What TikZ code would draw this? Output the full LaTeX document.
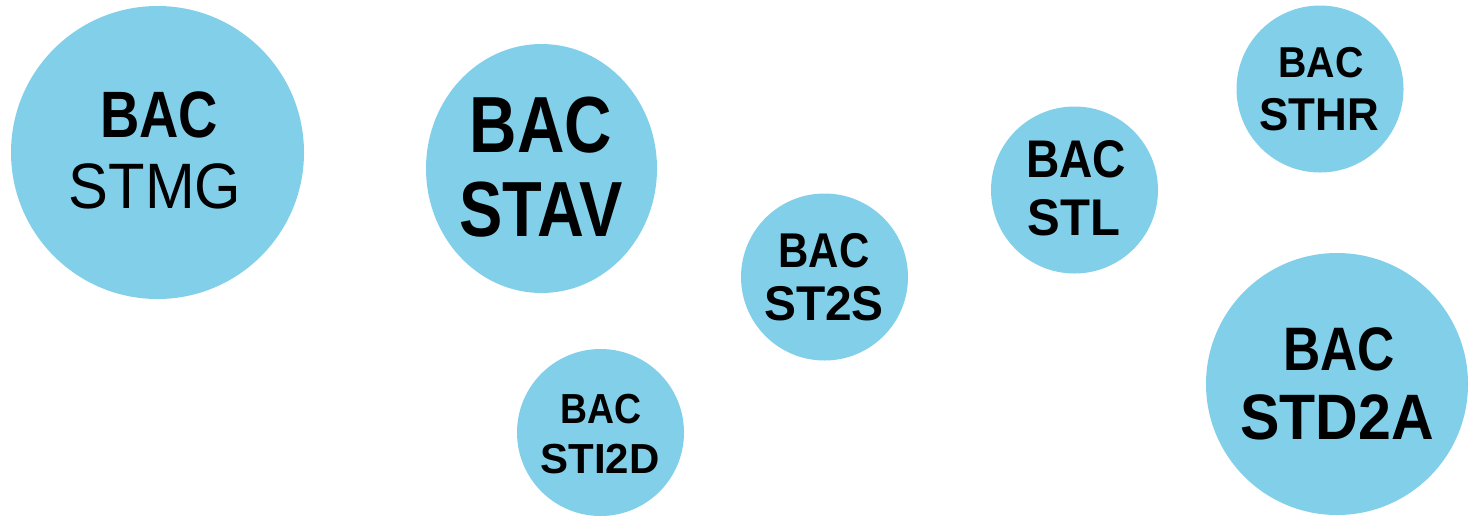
\documentclass[tikz,border=0pt]{standalone}
\usepackage{fontspec}
\usepackage{graphicx}
\usetikzlibrary{shapes.geometric}
\setmainfont{Liberation Sans}
\newcommand{\bt}[3]{\scalebox{#2}[1]{\fontsize{#1}{#1}\selectfont\bfseries #3}}
\newcommand{\rt}[3]{\scalebox{#2}[1]{\fontsize{#1}{#1}\selectfont #3}}
\definecolor{bubble}{RGB}{130,207,234}
\begin{document}
\begin{tikzpicture}[x=0.5pt,y=-0.5pt,
  bub/.style={circle,fill=bubble,draw=none,inner sep=0pt},
  bubell/.style={ellipse,fill=bubble,draw=none,inner sep=0pt},
  lbl/.style={anchor=base,inner sep=0pt,text=black}]
\useasboundingbox (0,0) rectangle (1470,515);
% circles (diameter in pt = radius in px)
\node[bub,minimum size=146.5pt] (stmg) at (157.5,152.5) {};
\node[bubell,minimum width=115.5pt,minimum height=124.5pt] (stav) at (541.5,168.5) {};
\node[bub,minimum size=83.5pt] (st2s) at (824.5,277) {};
\node[bub,minimum size=83.5pt] (sti2d) at (600.5,432.5) {};
\node[bub,minimum size=83.5pt] (stl) at (1074.5,190) {};
\node[bub,minimum size=83.5pt] (sthr) at (1320,89) {};
\node[bub,minimum size=131pt] (std2a) at (1337,384) {};
% labels
\node[lbl] (stmg1) at (159,137) {\bt{32.8pt}{0.83}{BAC}};
\node[lbl] (stmg2) at (155,208) {\rt{32.1pt}{0.93}{STMG}};
\node[lbl] (stav1) at (541,152) {\bt{39.8pt}{0.825}{BAC}};
\node[lbl] (stav2) at (541,236) {\bt{39.1pt}{0.83}{STAV}};
\node[lbl] (st2s1) at (824,267) {\bt{24.4pt}{0.86}{BAC}};
\node[lbl] (st2s2) at (824,320) {\bt{24.4pt}{0.98}{ST2S}};
\node[lbl] (sti2d1) at (601,423) {\bt{21pt}{0.89}{BAC}};
\node[lbl] (sti2d2) at (600,473) {\bt{21pt}{1.0}{STI2D}};
\node[lbl] (stl1) at (1076,177) {\bt{26.5pt}{0.87}{BAC}};
\node[lbl] (stl2) at (1074,235) {\bt{25.8pt}{0.95}{STL}};
\node[lbl] (sthr1) at (1321,77) {\bt{21.6pt}{0.91}{BAC}};
\node[lbl] (sthr2) at (1319,130) {\bt{23pt}{0.955}{STHR}};
\node[lbl] (std2a1) at (1339,370) {\bt{30.7pt}{0.84}{BAC}};
\node[lbl] (std2a2) at (1337,439) {\bt{32.1pt}{0.92}{STD2A}};
\end{tikzpicture}
\end{document}
